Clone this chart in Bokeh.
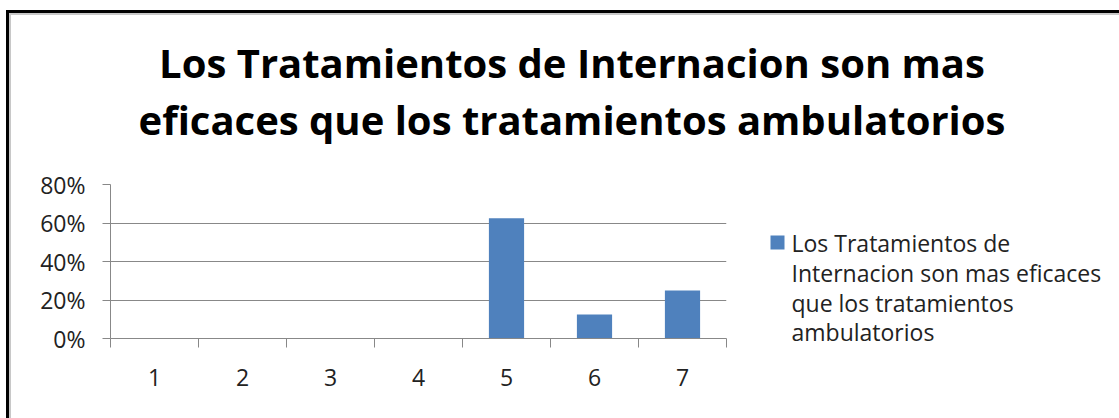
from bokeh.plotting import figure
from bokeh.models import Range1d, FixedTicker, NumeralTickFormatter
from bokeh.layouts import column, row
from bokeh.embed import file_html
from bokeh.resources import INLINE
from bokeh.core.properties import value

categories = ["1", "2", "3", "4", "5", "6", "7"]
values = [0, 0, 0, 0, 0.625, 0.125, 0.25]
y_ticks = [0, 0.2, 0.4, 0.6, 0.8]
title_lines = ["Los Tratamientos de Internacion son mas",
               "eficaces que los tratamientos ambulatorios"]
legend_lines = ["Los Tratamientos de", "Internacion son mas eficaces",
                "que los tratamientos", "ambulatorios"]

xpos = list(range(1, len(categories) + 1))
FONT = "Open Sans"
BAR = "#4F81BD"
GRID = "#888888"
TXT = "#222222"

TOTAL_W, TOTAL_H = 1108, 403
TITLE_H = 140
MAIN_W = 735
MAIN_H = TOTAL_H - TITLE_H
LEG_W = TOTAL_W - MAIN_W


def blank(w, h):
    f = figure(width=w, height=h, output_backend="svg", toolbar_location=None,
               x_range=Range1d(0, w), y_range=Range1d(h, 0),
               x_axis_type=None, y_axis_type=None, min_border=0)
    f.frame_align = False
    f.outline_line_color = None
    f.grid.visible = False
    f.background_fill_color = "white"
    f.border_fill_color = "white"
    return f


# ---- title ----
tf = blank(TOTAL_W, TITLE_H)
tf.text(x=[560.5, 560.5], y=[47, 104], text=title_lines, text_align="center",
        text_baseline="alphabetic", text_font=value(FONT), text_font_style="bold",
        text_font_size="40px", text_color="black")

# ---- main chart ----
p = figure(width=MAIN_W, height=MAIN_H, output_backend="svg", toolbar_location=None,
           x_range=Range1d(0.5, len(categories) + 0.5), y_range=Range1d(0, 0.8),
           min_border_left=99, min_border_right=20, min_border_top=29, min_border_bottom=80)
p.frame_align = False
p.outline_line_color = None
p.background_fill_color = "white"
p.border_fill_color = "white"

r = p.vbar(x=xpos, top=values, width=0.4, fill_color=BAR, line_color=None)

xa = p.xaxis[0]
xa.ticker = FixedTicker(ticks=xpos, minor_ticks=[v - 0.5 for v in xpos] + [xpos[-1] + 0.5])
xa.major_label_overrides = {v: c for v, c in zip(xpos, categories)}
xa.major_tick_out = 0
xa.major_tick_in = 0
xa.minor_tick_out = 9
xa.minor_tick_in = 0
xa.minor_tick_line_color = GRID
xa.axis_line_color = GRID
xa.major_label_text_font = FONT
xa.major_label_text_font_size = "23px"
xa.major_label_text_color = TXT
xa.major_label_standoff = 21

ya = p.yaxis[0]
ya.ticker = FixedTicker(ticks=y_ticks, minor_ticks=[])
ya.formatter = NumeralTickFormatter(format="0%")
ya.major_tick_out = 8
ya.major_tick_in = 0
ya.major_tick_line_color = GRID
ya.axis_line_color = GRID
ya.major_label_text_font = FONT
ya.major_label_text_font_size = "23px"
ya.major_label_text_color = TXT
ya.major_label_standoff = 17

p.xgrid.grid_line_color = None
p.ygrid.ticker = FixedTicker(ticks=y_ticks)
p.ygrid.grid_line_color = GRID

# ---- legend ----
lf = blank(LEG_W, MAIN_H)
lf.rect(x=[31], y=[87], width=14, height=14, fill_color=BAR, line_color=None)
lf.text(x=[45] * len(legend_lines), y=[87, 117, 147, 176], text=legend_lines,
        text_align="left", text_baseline="alphabetic", text_font=value(FONT),
        text_font_size="23px", text_color=TXT)

body = column(tf, row(p, lf, spacing=0), spacing=0)
inner = column(body, styles={"border-top": "2px solid #c8c8c8", "border-left": "2px solid #c8c8c8"})
outer = column(inner, styles={"border-top": "3px solid black", "border-left": "3px solid black",
                              "margin-left": "6px", "margin-top": "10px"})

open("out.html", "w").write(file_html(outer, INLINE))
